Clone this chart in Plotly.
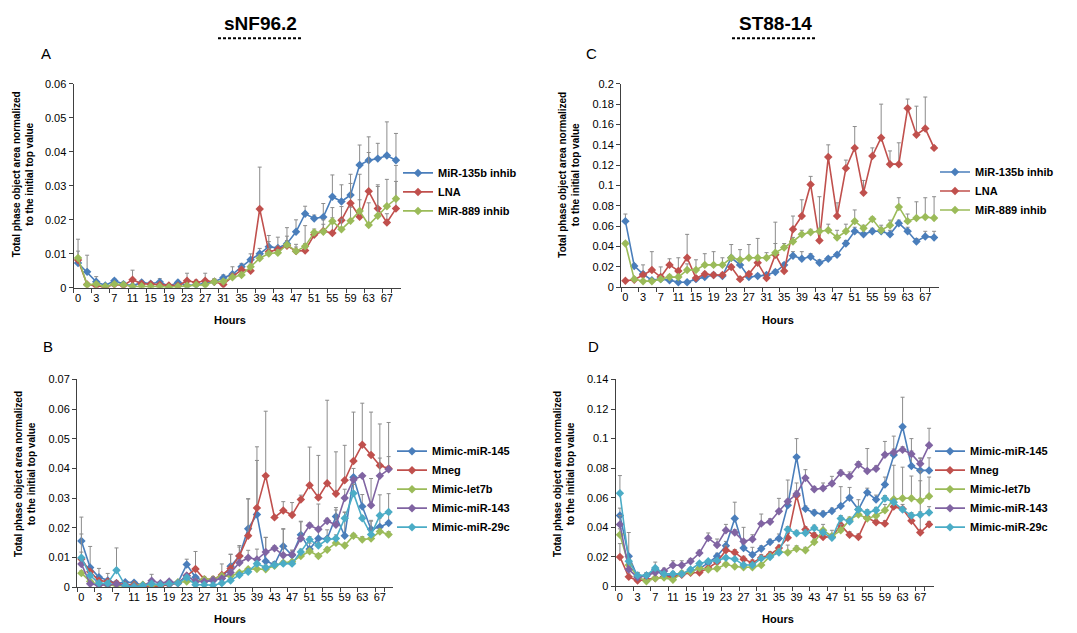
import plotly.graph_objects as go

# ---------------- data ----------------
hours = [0, 1, 3, 5, 7, 9, 11, 13, 15, 17, 19, 21, 23, 25, 27, 29, 31, 33, 35,
         37, 39, 41, 43, 45, 47, 49, 51, 53, 55, 57, 59, 61, 63, 65, 67, 69]
hour_labels = [str(h) for h in hours]

# Panel A (sNF96.2, inhibitors)
A_mir135b = [0.0073, 0.0047, 0.0018, 0.0007, 0.0021, 0.0011, 0.0006, 0.0016, 0.0012, 0.0017, 0.0005, 0.0016,
             0.0007, 0.0009, 0.0013, 0.0018, 0.0030, 0.0040, 0.0062, 0.0083, 0.0100, 0.0121, 0.0117, 0.0130,
             0.0165, 0.0218, 0.0204, 0.0208, 0.0268, 0.0254, 0.0273, 0.0361, 0.0375, 0.0380, 0.0389, 0.0375]
A_mir135b_err = [0.0035, 0.0049, 0.0015, 0.0004, 0.0005, 0.0006, 0.0003, 0.0006, 0.0005, 0.0010, 0.0003, 0.0006,
                 0.0004, 0.0005, 0.0005, 0.0008, 0.0008, 0.0022, 0.0010, 0.0017, 0.0016, 0.0033, 0.0032, 0.0047,
                 0.0035, 0.0022, 0.0010, 0.0040, 0.0064, 0.0049, 0.0034, 0.0059, 0.0069, 0.0045, 0.0099, 0.0079]
A_lna = [0.0082, 0.0010, 0.0006, 0.0002, 0.0010, 0.0007, 0.0024, 0.0012, 0.0011, 0.0009, 0.0007, 0.0006,
         0.0021, 0.0016, 0.0021, 0.0018, 0.0010, 0.0033, 0.0053, 0.0050, 0.0232, 0.0106, 0.0113, 0.0124,
         0.0108, 0.0110, 0.0156, 0.0167, 0.0161, 0.0199, 0.0249, 0.0209, 0.0284, 0.0233, 0.0192, 0.0233]
A_lna_err = [0.0010, 0.0003, 0.0003, 0.0002, 0.0003, 0.0003, 0.0028, 0.0004, 0.0004, 0.0005, 0.0003, 0.0003,
             0.0022, 0.0007, 0.0022, 0.0005, 0.0004, 0.0010, 0.0008, 0.0012, 0.0123, 0.0030, 0.0010, 0.0015,
             0.0020, 0.0020, 0.0010, 0.0020, 0.0045, 0.0040, 0.0085, 0.0050, 0.0114, 0.0070, 0.0026, 0.0080]
A_mir889 = [0.0088, 0.0009, 0.0011, 0.0004, 0.0011, 0.0009, 0.0004, 0.0005, 0.0004, 0.0004, 0.0002, 0.0004,
            0.0006, 0.0009, 0.0009, 0.0018, 0.0019, 0.0031, 0.0038, 0.0062, 0.0087, 0.0101, 0.0103, 0.0127,
            0.0108, 0.0122, 0.0163, 0.0165, 0.0196, 0.0172, 0.0197, 0.0226, 0.0185, 0.0212, 0.0240, 0.0262]
A_mir889_err = [0.0055, 0.0003, 0.0003, 0.0002, 0.0003, 0.0003, 0.0002, 0.0002, 0.0002, 0.0003, 0.0002, 0.0002,
                0.0003, 0.0003, 0.0003, 0.0008, 0.0006, 0.0005, 0.0008, 0.0008, 0.0010, 0.0015, 0.0010, 0.0025,
                0.0012, 0.0061, 0.0010, 0.0035, 0.0040, 0.0030, 0.0040, 0.0108, 0.0065, 0.0086, 0.0079, 0.0098]

# Panel C (ST88-14, inhibitors)
C_mir135b = [0.065, 0.021, 0.013, 0.007, 0.008, 0.007, 0.005, 0.005, 0.008, 0.010, 0.012, 0.011,
             0.029, 0.022, 0.010, 0.011, 0.012, 0.015, 0.022, 0.031, 0.028, 0.030, 0.024, 0.028,
             0.032, 0.043, 0.055, 0.052, 0.055, 0.055, 0.052, 0.063, 0.055, 0.045, 0.050, 0.049]
C_mir135b_err = [0.007, 0.002, 0.002, 0.001, 0.001, 0.001, 0.001, 0.001, 0.001, 0.002, 0.002, 0.002,
                 0.002, 0.002, 0.002, 0.002, 0.002, 0.002, 0.002, 0.004, 0.007, 0.003, 0.003, 0.002,
                 0.002, 0.003, 0.004, 0.002, 0.003, 0.006, 0.004, 0.003, 0.004, 0.003, 0.005, 0.006]
C_lna = [0.0064, 0.0074, 0.012, 0.017, 0.010, 0.022, 0.016, 0.029, 0.009, 0.013, 0.012, 0.012,
         0.020, 0.008, 0.013, 0.024, 0.009, 0.032, 0.016, 0.057, 0.070, 0.101, 0.046, 0.128,
         0.070, 0.117, 0.137, 0.093, 0.129, 0.147, 0.121, 0.121, 0.176, 0.150, 0.156, 0.137]
C_lna_err = [0.001, 0.001, 0.010, 0.018, 0.010, 0.006, 0.013, 0.023, 0.002, 0.002, 0.002, 0.002,
             0.002, 0.002, 0.002, 0.002, 0.002, 0.032, 0.004, 0.013, 0.016, 0.008, 0.043, 0.012,
             0.013, 0.008, 0.021, 0.012, 0.008, 0.033, 0.013, 0.021, 0.009, 0.028, 0.031, 0.002]
C_mir889 = [0.043, 0.008, 0.006, 0.006, 0.008, 0.010, 0.010, 0.017, 0.017, 0.022, 0.022, 0.022,
            0.029, 0.027, 0.029, 0.029, 0.029, 0.034, 0.039, 0.045, 0.052, 0.054, 0.055, 0.056,
            0.049, 0.055, 0.065, 0.058, 0.067, 0.056, 0.061, 0.079, 0.065, 0.068, 0.069, 0.068]
C_mir889_err = [0.002, 0.002, 0.001, 0.001, 0.002, 0.002, 0.002, 0.006, 0.010, 0.011, 0.013, 0.007,
                0.013, 0.010, 0.013, 0.019, 0.005, 0.009, 0.004, 0.004, 0.004, 0.003, 0.003, 0.006,
                0.007, 0.007, 0.011, 0.003, 0.002, 0.003, 0.005, 0.009, 0.007, 0.016, 0.019, 0.021]

# Panel B (sNF96.2, mimics)
B_mir145 = [0.0155, 0.0066, 0.0033, 0.0022, 0.0013, 0.0016, 0.0015, 0.0006, 0.0006, 0.0005, 0.0008, 0.0015,
            0.0076, 0.0033, 0.0019, 0.0021, 0.0030, 0.0070, 0.0105, 0.0197, 0.0245, 0.0087, 0.0076, 0.0138,
            0.0107, 0.0176, 0.0128, 0.0164, 0.0163, 0.0238, 0.0173, 0.0370, 0.0272, 0.0195, 0.0203, 0.0216]
B_mir145_err = [0.0081, 0.0071, 0.0030, 0.0024, 0.0008, 0.0005, 0.0005, 0.0003, 0.0003, 0.0003, 0.0003, 0.0005,
                0.0018, 0.0006, 0.0005, 0.0005, 0.0008, 0.0040, 0.0030, 0.0100, 0.0182, 0.0080, 0.0010, 0.0057,
                0.0015, 0.0044, 0.0020, 0.0030, 0.0030, 0.0030, 0.0080, 0.0030, 0.0040, 0.0030, 0.0030, 0.0030]
B_mneg = [0.0095, 0.0052, 0.0021, 0.0019, 0.0013, 0.0008, 0.0008, 0.0006, 0.0000, 0.0004, 0.0010, 0.0013,
          0.0038, 0.0061, 0.0026, 0.0026, 0.0041, 0.0063, 0.0105, 0.0173, 0.0267, 0.0375, 0.0235, 0.0258,
          0.0243, 0.0295, 0.0343, 0.0302, 0.0350, 0.0315, 0.0360, 0.0425, 0.0480, 0.0445, 0.0410, 0.0400]
B_mneg_err = [0.0005, 0.0005, 0.0003, 0.0003, 0.0003, 0.0003, 0.0003, 0.0003, 0.0003, 0.0003, 0.0003, 0.0003,
              0.0005, 0.0059, 0.0010, 0.0010, 0.0037, 0.0048, 0.0035, 0.0125, 0.0206, 0.0218, 0.0005, 0.0030,
              0.0042, 0.0015, 0.0129, 0.0142, 0.0280, 0.0141, 0.0118, 0.0165, 0.0140, 0.0145, 0.0140, 0.0155]
B_let7b = [0.0047, 0.0019, 0.0008, 0.0006, 0.0006, 0.0004, 0.0005, 0.0008, 0.0006, 0.0008, 0.0013, 0.0016,
           0.0019, 0.0019, 0.0026, 0.0026, 0.0037, 0.0037, 0.0048, 0.0060, 0.0061, 0.0060, 0.0072, 0.0082,
           0.0085, 0.0105, 0.0121, 0.0105, 0.0126, 0.0149, 0.0140, 0.0173, 0.0160, 0.0164, 0.0187, 0.0177]
B_let7b_err = [0.0008, 0.0004, 0.0003, 0.0003, 0.0003, 0.0003, 0.0003, 0.0003, 0.0003, 0.0003, 0.0003, 0.0003,
               0.0004, 0.0004, 0.0005, 0.0005, 0.0005, 0.0005, 0.0005, 0.0006, 0.0006, 0.0006, 0.0006, 0.0006,
               0.0006, 0.0008, 0.0008, 0.0008, 0.0008, 0.0008, 0.0008, 0.0008, 0.0010, 0.0010, 0.0010, 0.0010]
B_mir143 = [0.0078, 0.0011, 0.0006, 0.0008, 0.0010, 0.0005, 0.0004, 0.0003, 0.0021, 0.0013, 0.0019, 0.0013,
            0.0038, 0.0019, 0.0019, 0.0024, 0.0029, 0.0049, 0.0082, 0.0099, 0.0093, 0.0118, 0.0131, 0.0107,
            0.0110, 0.0164, 0.0208, 0.0195, 0.0223, 0.0210, 0.0300, 0.0362, 0.0375, 0.0276, 0.0375, 0.0397]
B_mir143_err = [0.0040, 0.0005, 0.0003, 0.0003, 0.0003, 0.0003, 0.0003, 0.0003, 0.0022, 0.0005, 0.0005, 0.0005,
                0.0005, 0.0005, 0.0005, 0.0005, 0.0005, 0.0010, 0.0010, 0.0025, 0.0035, 0.0050, 0.0008, 0.0090,
                0.0015, 0.0058, 0.0008, 0.0085, 0.0009, 0.0050, 0.0030, 0.0005, 0.0005, 0.0090, 0.0060, 0.0043]
B_mir29c = [0.0099, 0.0039, 0.0013, 0.0013, 0.0057, 0.0005, 0.0000, 0.0005, 0.0011, 0.0008, 0.0011, 0.0013,
            0.0032, 0.0008, 0.0008, 0.0006, 0.0013, 0.0022, 0.0041, 0.0052, 0.0079, 0.0066, 0.0074, 0.0079,
            0.0079, 0.0118, 0.0160, 0.0140, 0.0160, 0.0164, 0.0232, 0.0316, 0.0232, 0.0177, 0.0241, 0.0253]
B_mir29c_err = [0.0080, 0.0010, 0.0005, 0.0005, 0.0075, 0.0003, 0.0003, 0.0003, 0.0003, 0.0003, 0.0003, 0.0003,
                0.0005, 0.0003, 0.0003, 0.0003, 0.0005, 0.0005, 0.0008, 0.0010, 0.0008, 0.0008, 0.0008, 0.0008,
                0.0008, 0.0010, 0.0010, 0.0010, 0.0010, 0.0012, 0.0020, 0.0030, 0.0008, 0.0045, 0.0070, 0.0062]

# Panel D (ST88-14, mimics)
D_mir145 = [0.048, 0.0205, 0.0065, 0.0072, 0.0115, 0.0068, 0.0082, 0.0085, 0.0105, 0.012, 0.016, 0.0205,
            0.0275, 0.046, 0.026, 0.0215, 0.0255, 0.030, 0.0325, 0.055, 0.0875, 0.0525, 0.0498, 0.049,
            0.051, 0.0545, 0.060, 0.052, 0.0635, 0.0588, 0.069, 0.089, 0.108, 0.0815, 0.0785, 0.0785]
D_mir145_err = [0.005, 0.016, 0.003, 0.002, 0.002, 0.002, 0.002, 0.002, 0.002, 0.002, 0.002, 0.002,
                0.003, 0.011, 0.002, 0.005, 0.002, 0.002, 0.003, 0.004, 0.0125, 0.002, 0.002, 0.002,
                0.002, 0.013, 0.007, 0.002, 0.003, 0.003, 0.005, 0.004, 0.020, 0.0185, 0.008, 0.0085]
D_mneg = [0.020, 0.0065, 0.004, 0.0045, 0.0055, 0.0065, 0.0065, 0.008, 0.0093, 0.0095, 0.0125, 0.0165,
          0.0245, 0.023, 0.0185, 0.016, 0.0195, 0.0215, 0.026, 0.033, 0.0615, 0.0385, 0.0345, 0.0335,
          0.0335, 0.0415, 0.035, 0.0335, 0.0465, 0.0435, 0.0425, 0.054, 0.0525, 0.0445, 0.0365, 0.042]
D_mneg_err = [0.009, 0.002, 0.002, 0.001, 0.001, 0.001, 0.001, 0.001, 0.001, 0.001, 0.001, 0.001,
              0.003, 0.002, 0.002, 0.002, 0.002, 0.002, 0.002, 0.003, 0.0085, 0.002, 0.002, 0.002,
              0.002, 0.002, 0.002, 0.002, 0.002, 0.002, 0.002, 0.002, 0.003, 0.003, 0.035, 0.002]
D_let7b = [0.035, 0.0145, 0.0066, 0.0035, 0.0055, 0.006, 0.0045, 0.009, 0.010, 0.0125, 0.0115, 0.0122,
           0.015, 0.0135, 0.013, 0.013, 0.0145, 0.0205, 0.0235, 0.023, 0.0255, 0.0245, 0.030, 0.038,
           0.034, 0.038, 0.045, 0.0487, 0.046, 0.0478, 0.0515, 0.059, 0.0597, 0.0597, 0.058, 0.061]
D_let7b_err = [0.004, 0.002, 0.002, 0.001, 0.001, 0.001, 0.001, 0.001, 0.001, 0.001, 0.001, 0.001,
               0.001, 0.001, 0.001, 0.001, 0.001, 0.001, 0.002, 0.005, 0.002, 0.002, 0.002, 0.004,
               0.004, 0.004, 0.002, 0.010, 0.003, 0.003, 0.004, 0.023, 0.021, 0.015, 0.020, 0.013]
D_mir143 = [0.042, 0.0115, 0.0062, 0.0073, 0.0095, 0.0104, 0.0144, 0.0144, 0.017, 0.0226, 0.0327, 0.0281,
            0.038, 0.0365, 0.0305, 0.032, 0.0425, 0.0438, 0.0509, 0.0575, 0.0626, 0.0734, 0.0657, 0.0664,
            0.0697, 0.0768, 0.0745, 0.0825, 0.0781, 0.0796, 0.0891, 0.0907, 0.0925, 0.0896, 0.083, 0.0955]
D_mir143_err = [0.006, 0.002, 0.002, 0.002, 0.002, 0.002, 0.003, 0.003, 0.002, 0.002, 0.0035, 0.004,
                0.004, 0.002, 0.0095, 0.003, 0.0065, 0.002, 0.0087, 0.0145, 0.002, 0.0056, 0.002, 0.0036,
                0.0048, 0.002, 0.003, 0.002, 0.0152, 0.002, 0.009, 0.011, 0.002, 0.002, 0.004, 0.0115]
D_mir29c = [0.063, 0.017, 0.0075, 0.0075, 0.0125, 0.0085, 0.0085, 0.0085, 0.0115, 0.0155, 0.017, 0.0175,
            0.0195, 0.0185, 0.0145, 0.0145, 0.019, 0.020, 0.023, 0.0385, 0.036, 0.0362, 0.0395, 0.0365,
            0.033, 0.046, 0.044, 0.052, 0.050, 0.0515, 0.0595, 0.057, 0.052, 0.048, 0.0485, 0.050]
D_mir29c_err = [0.012, 0.002, 0.002, 0.001, 0.004, 0.001, 0.001, 0.001, 0.001, 0.001, 0.001, 0.001,
                0.001, 0.001, 0.001, 0.001, 0.001, 0.001, 0.002, 0.002, 0.002, 0.002, 0.002, 0.002,
                0.002, 0.002, 0.002, 0.002, 0.002, 0.002, 0.002, 0.002, 0.002, 0.002, 0.002, 0.004]

y_ranges = {"A": [0, 0.06], "C": [0, 0.2], "B": [0, 0.07], "D": [0, 0.14]}
y_dticks = {"A": 0.01, "C": 0.02, "B": 0.01, "D": 0.02}

# ---------------- styling ----------------
W, H = 1077, 633
BLUE, RED, GREEN, PURPLE, CYAN = "#4a7ebb", "#c0504d", "#9bbb59", "#8064a2", "#4bacc6"
FONT = "Liberation Sans, Arial, sans-serif"
ERRC = "#8c8c8c"


def px(x):
    return x / W


def py(y):
    return 1 - y / H


fig = go.Figure()

panels = {
    # key: (axis suffix, legend name, x-domain px, y-domain px (top, bottom))
    "A": ("", "legend", (73.5, 400.5), (79.3, 287.3)),
    "C": ("2", "legend2", (621.0, 938.5), (79.3, 286.7)),
    "B": ("3", "legend3", (77.0, 393.0), (380.7, 592.3)),
    "D": ("4", "legend4", (615.5, 933.5), (380.7, 591.7)),
}

series = {
    "A": [("MiR-135b inhib", A_mir135b, A_mir135b_err, BLUE),
          ("LNA", A_lna, A_lna_err, RED),
          ("MiR-889 inhib", A_mir889, A_mir889_err, GREEN)],
    "C": [("MiR-135b inhib", C_mir135b, C_mir135b_err, BLUE),
          ("LNA", C_lna, C_lna_err, RED),
          ("MiR-889 inhib", C_mir889, C_mir889_err, GREEN)],
    "B": [("Mimic-miR-145", B_mir145, B_mir145_err, BLUE),
          ("Mneg", B_mneg, B_mneg_err, RED),
          ("Mimic-let7b", B_let7b, B_let7b_err, GREEN),
          ("Mimic-miR-143", B_mir143, B_mir143_err, PURPLE),
          ("Mimic-miR-29c", B_mir29c, B_mir29c_err, CYAN)],
    "D": [("Mimic-miR-145", D_mir145, D_mir145_err, BLUE),
          ("Mneg", D_mneg, D_mneg_err, RED),
          ("Mimic-let7b", D_let7b, D_let7b_err, GREEN),
          ("Mimic-miR-143", D_mir143, D_mir143_err, PURPLE),
          ("Mimic-miR-29c", D_mir29c, D_mir29c_err, CYAN)],
}

legend_pos = {  # legend left px, legend vertical centre px
    "A": (398, 189.5),
    "C": (935, 188.5),
    "B": (392, 492.5),
    "D": (930, 492.5),
}

layout = dict(
    width=W, height=H, autosize=False,
    margin=dict(l=0, r=0, t=0, b=0),
    paper_bgcolor="white", plot_bgcolor="white",
    font=dict(family=FONT, size=11, color="#000000"),
    showlegend=True,
)

annotations = []
shapes = []

for key, (suf, leg, (x0, x1), (yt, yb)) in panels.items():
    xa = "x" + suf
    ya = "y" + suf
    for name, vals, errs, col in series[key]:
        fig.add_trace(go.Scatter(
            x=hour_labels, y=vals, name=name, mode="lines+markers",
            xaxis=xa, yaxis=ya, legend=leg,
            line=dict(color=col, width=1.6),
            marker=dict(symbol="diamond", size=6.5, color=col),
            error_y=dict(type="data", symmetric=False, array=errs,
                         arrayminus=[0] * len(errs), color=ERRC,
                         thickness=1, width=2),
        ))
    layout["xaxis" + suf] = dict(
        domain=[px(x0), px(x1)], anchor=ya, type="category",
        range=[-0.5, len(hours) - 0.5],
        tickmode="array", tickvals=hour_labels[::2], ticktext=hour_labels[::2],
        tickangle=0,
        ticks="outside", tickson="boundaries", ticklen=4, tickcolor="#404040",
        showline=True, linecolor="#404040", linewidth=1,
        showgrid=False, zeroline=False,
        tickfont=dict(family=FONT, size=11, color="#000"),
    )
    layout["yaxis" + suf] = dict(
        domain=[py(yb), py(yt)], anchor=xa,
        range=y_ranges[key], dtick=y_dticks[key], tick0=0,
        ticks="outside", ticklen=4, tickcolor="#404040",
        showline=True, linecolor="#404040", linewidth=1,
        showgrid=False, zeroline=False,
        tickfont=dict(family=FONT, size=11, color="#000"),
    )
    lx, lyc = legend_pos[key]
    layout[leg] = dict(
        x=px(lx), y=py(lyc), xanchor="left", yanchor="middle",
        xref="paper", yref="paper",
        font=dict(family=FONT, size=11, color="#000", weight="bold"),
        bgcolor="rgba(0,0,0,0)", borderwidth=0, tracegroupgap=0,
    )

# panel titles, letters, axis titles
for txt, xc in [("sNF96.2", 260), ("ST88-14", 775)]:
    annotations.append(dict(text="<b>%s</b>" % txt, x=px(xc), y=py(18), xref="paper", yref="paper",
                            showarrow=False, xanchor="center", yanchor="middle",
                            font=dict(family=FONT, size=19, color="#000")))
for (xs, xe) in [(218, 302), (732, 817)]:
    shapes.append(dict(type="line", xref="paper", yref="paper", x0=px(xs), x1=px(xe), y0=py(33), y1=py(33),
                       line=dict(color="#000", width=2, dash="3px,2px")))

for txt, xc, yc in [("A", 46, 48), ("C", 591, 48), ("B", 48, 347), ("D", 593, 347)]:
    annotations.append(dict(text=txt, x=px(xc), y=py(yc), xref="paper", yref="paper", showarrow=False,
                            xanchor="center", yanchor="middle",
                            font=dict(family=FONT, size=15, color="#000")))

ytitle = "<b>Total phase object area normalized<br>to the initial top value</b>"
for xc, yc in [(22.5, 172), (569, 172), (25, 477), (564, 477)]:
    annotations.append(dict(text=ytitle, x=px(xc), y=py(yc), xref="paper", yref="paper", showarrow=False,
                            textangle=-90, xanchor="center", yanchor="middle",
                            font=dict(family=FONT, size=10, color="#000")))

for xc, yc in [(230, 320), (778, 320), (230, 625), (778, 625)]:
    annotations.append(dict(text="<b>Hours</b>", x=px(xc), y=py(yc), xref="paper", yref="paper",
                            showarrow=False, xanchor="center", yanchor="middle",
                            font=dict(family=FONT, size=11, color="#000")))

layout["annotations"] = annotations
layout["shapes"] = shapes
layout["hovermode"] = False
fig.update_layout(**layout)

fig.write_html("out.html",
               config={"displayModeBar": False},
               post_script="document.body.style.margin='0';document.body.style.overflow='hidden';")
